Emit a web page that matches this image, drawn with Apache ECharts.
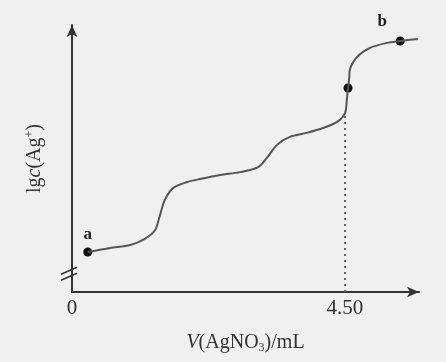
<!DOCTYPE html>
<html>
<head>
<meta charset="utf-8">
<script src="https://cdn.jsdelivr.net/npm/echarts@6/dist/echarts.min.js"></script>
<style>
  html, body { margin: 0; padding: 0; background: #f0f0f0; }
  #main { width: 446px; height: 362px; }
</style>
</head>
<body>
<div id="main"></div>
<script>
// titration curve (y has no scale, arbitrary units 0-100)
const volume = [0.26, 0.63, 0.96, 1.20, 1.37, 1.45, 1.53, 1.67, 1.90, 2.11, 2.44, 2.77,
    3.07, 3.21, 3.38, 3.59, 3.87, 4.14, 4.37, 4.50, 4.53, 4.55, 4.57, 4.58, 4.70,
    4.91, 5.19, 5.41, 5.70];
const lgAg = [15.0, 16.5, 17.6, 19.9, 23.2, 28.8, 34.5, 39.0, 41.2, 42.3, 43.8, 44.9,
    46.8, 50.2, 55.1, 58.1, 59.6, 61.4, 63.7, 67.0, 71.9, 76.4, 80.2, 83.2, 88.0,
    91.4, 93.3, 94.0, 94.8];
const keyPoints = [[0.26, 15.0, 'a'], [4.55, 76.4, ''], [5.41, 94.0, 'b']];
const xTicks = [0, 4.5];
const xTickLabels = ['0', '4.50'];
const eqVolume = 4.5;
const eqLg = 67.0;

const chart = echarts.init(document.getElementById('main'));
const ink = '#333';
const serif = '"Liberation Serif", "DejaVu Serif", serif';

chart.setOption({
    backgroundColor: '#f0f0f0',
    animation: false,
    grid: { left: 72, right: 27, top: 25, bottom: 70 },
    xAxis: {
        type: 'value',
        min: 0,
        max: 5.72,
        name: '{i|V}(AgNO{s|3})/mL',
        nameLocation: 'middle',
        nameGap: 40,
        nameTextStyle: {
            color: ink, fontFamily: serif, fontSize: 20,
            rich: {
                i: { fontStyle: 'italic', fontFamily: serif, fontSize: 20, color: ink },
                s: { fontFamily: serif, fontSize: 12, color: ink, padding: [10, 0, 0, 0] }
            }
        },
        axisLine: { lineStyle: { color: ink, width: 2 }, symbol: ['none', 'arrow'], symbolSize: [8, 12] },
        axisTick: { show: false },
        splitLine: { show: false },
        axisLabel: {
            customValues: xTicks,
            color: ink, fontFamily: serif, fontSize: 21, margin: 6,
            formatter: function (v) { return xTickLabels[xTicks.indexOf(v)]; }
        }
    },
    yAxis: {
        type: 'value',
        min: 0,
        max: 100,
        name: 'lg{i|c}(Ag{p|+})',
        nameLocation: 'middle',
        nameGap: 26,
        nameTextStyle: {
            color: ink, fontFamily: serif, fontSize: 20,
            rich: {
                i: { fontStyle: 'italic', fontFamily: serif, fontSize: 20, color: ink },
                p: { fontFamily: serif, fontSize: 12, color: ink, padding: [0, 0, 10, 0] }
            }
        },
        axisLine: { lineStyle: { color: ink, width: 2 }, symbol: ['none', 'arrow'], symbolSize: [8, 12] },
        axisTick: { show: false },
        axisLabel: { show: false },
        splitLine: { show: false }
    },
    series: [
        {
            type: 'line',
            data: volume.map((v, i) => [v, lgAg[i]]),
            smooth: 0.3,
            showSymbol: false,
            lineStyle: { color: '#555', width: 2 },
            markLine: {
                silent: true,
                symbol: ['none', 'none'],
                label: { show: false },
                lineStyle: { color: '#666', type: [2, 4], width: 2 },
                data: [[{ coord: [eqVolume, 0] }, { coord: [eqVolume, eqLg] }]]
            }
        },
        {
            type: 'scatter',
            data: keyPoints.map(p => ({ value: [p[0], p[1]], name: p[2] })),
            symbolSize: 9,
            itemStyle: { color: '#111', opacity: 1 },
            label: {
                show: true,
                formatter: '{b}',
                position: 'top',
                distance: 4,
                color: '#222',
                fontWeight: 'bold',
                fontFamily: serif,
                fontSize: 17
            },
            labelLayout: function (params) {
                return params.text === 'b' ? { dx: -18, dy: -2 } : {};
            }
        }
    ]
});

// axis break mark on the y axis
const brk = chart.convertToPixel({ gridIndex: 0 }, [0, 7]);
chart.setOption({
    graphic: [
        { type: 'line', shape: { x1: brk[0] - 11, y1: brk[1] + 1, x2: brk[0] + 5, y2: brk[1] - 6 }, style: { stroke: ink, lineWidth: 1.5 } },
        { type: 'line', shape: { x1: brk[0] - 11, y1: brk[1] + 7, x2: brk[0] + 5, y2: brk[1] }, style: { stroke: ink, lineWidth: 1.5 } }
    ]
});
</script>
</body>
</html>
